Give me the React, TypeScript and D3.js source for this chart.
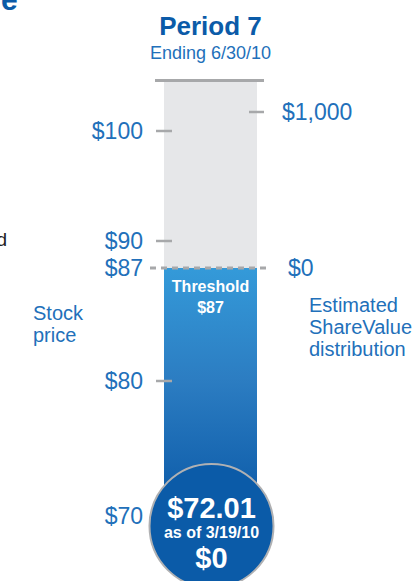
import * as d3 from "d3";
import { useEffect, useRef } from "react";

// stock price axis (left) - the chart is schematic, so the scale is piecewise
const priceBreaks = [70, 80, 87, 90, 100, 104.5];
const priceTicks = [100, 90, 87, 80, 70];
const threshold = 87;
const currentPrice = "$72.01";
const currentDate = "as of 3/19/10";
const currentShareValue = "$0";

// ShareValue axis (right)
const shareBreaks = [0, 1000];
const shareTicks = [1000];

const periodTitle = "Period 7";
const periodSub = "Ending 6/30/10";

const W = 413;
const H = 581;
const FONT = "'Liberation Sans', Arial, sans-serif";
const BLUE = "#2270ba";
const DARK = "#0b5ba8";

const App = () => {
  const ref = useRef<SVGSVGElement>(null);

  useEffect(() => {
    const svg = d3.select(ref.current);
    svg.selectAll("*").remove();

    const y = d3.scaleLinear().domain(priceBreaks).range([516, 381, 268, 241, 131, 82]);
    const ySV = d3.scaleLinear().domain(shareBreaks).range([y(threshold), 112]);
    const barX = 164, barW = 93, cx = barX + barW / 2;

    const defs = svg.append("defs");
    const grad = defs.append("linearGradient")
      .attr("id", "blueGrad").attr("x1", 0).attr("x2", 0).attr("y1", 0).attr("y2", 1);
    grad.append("stop").attr("offset", "0%").attr("stop-color", "#349ad9");
    grad.append("stop").attr("offset", "45%").attr("stop-color", "#2c7dc2");
    grad.append("stop").attr("offset", "100%").attr("stop-color", "#0a58a6");

    // cut-off fragments of neighbouring text
    svg.append("text").attr("x", 1).attr("y", 10).attr("font-family", FONT)
      .attr("font-weight", "bold").attr("font-size", 30).attr("fill", DARK).text("e");
    svg.append("text").attr("x", 7).attr("y", 246).attr("text-anchor", "end").attr("font-family", FONT)
      .attr("font-size", 19).attr("fill", "#222").text("d");

    // titles
    svg.append("text").attr("x", cx).attr("y", 35).attr("text-anchor", "middle")
      .attr("font-family", FONT).attr("font-weight", "bold").attr("font-size", 26)
      .attr("fill", DARK).text(periodTitle);
    svg.append("text").attr("x", cx).attr("y", 59).attr("text-anchor", "middle")
      .attr("font-family", FONT).attr("font-size", 18).attr("fill", BLUE).text(periodSub);

    // grey part above threshold
    svg.append("rect").attr("x", barX).attr("y", y(104.5)).attr("width", barW)
      .attr("height", y(threshold) - y(104.5)).attr("fill", "#e6e7e9");
    svg.append("rect").attr("x", 155).attr("y", y(104.5) - 3).attr("width", 109)
      .attr("height", 3).attr("fill", "#a7a8aa");

    // blue part below threshold
    svg.append("rect").attr("x", barX).attr("y", y(threshold)).attr("width", barW)
      .attr("height", y(70) - y(threshold)).attr("fill", "url(#blueGrad)");

    // left ticks
    svg.selectAll(".lt").data(priceTicks.filter(d => d !== threshold && d !== 70)).enter()
      .append("line").attr("x1", 156).attr("x2", 172)
      .attr("y1", d => y(d)).attr("y2", d => y(d))
      .attr("stroke", "#a7a8aa").attr("stroke-width", 2.5);
    svg.selectAll(".ll").data(priceTicks).enter()
      .append("text").attr("x", 143).attr("y", d => y(d)).attr("dy", "0.35em")
      .attr("text-anchor", "end").attr("font-family", FONT).attr("font-size", 23)
      .attr("fill", BLUE).text(d => `$${d}`);

    // threshold dashed line
    svg.append("line").attr("x1", 150).attr("x2", 271)
      .attr("y1", y(threshold)).attr("y2", y(threshold))
      .attr("stroke", "#a7a8aa").attr("stroke-width", 3).attr("stroke-dasharray", "6,5");
    svg.append("text").attr("x", cx).attr("y", y(threshold) + 24).attr("text-anchor", "middle")
      .attr("font-family", FONT).attr("font-weight", "bold").attr("font-size", 16)
      .attr("fill", "#fff").text("Threshold");
    svg.append("text").attr("x", cx).attr("y", y(threshold) + 45).attr("text-anchor", "middle")
      .attr("font-family", FONT).attr("font-weight", "bold").attr("font-size", 16)
      .attr("fill", "#fff").text(`$${threshold}`);

    // right ShareValue ticks
    svg.selectAll(".rt").data(shareTicks).enter()
      .append("line").attr("x1", 249).attr("x2", 264)
      .attr("y1", d => ySV(d)).attr("y2", d => ySV(d))
      .attr("stroke", "#a7a8aa").attr("stroke-width", 2.5);
    svg.selectAll(".rl").data([...shareTicks, 0]).enter()
      .append("text").attr("x", d => (d === 0 ? 288 : 282)).attr("y", d => ySV(d)).attr("dy", "0.35em")
      .attr("font-family", FONT).attr("font-size", 23).attr("fill", BLUE)
      .text(d => d3.format("$,")(d));

    // axis captions
    const cap = (lines: string[], x: number, y0: number) => {
      lines.forEach((t, i) => {
        svg.append("text").attr("x", x).attr("y", y0 + i * 22).attr("font-family", FONT)
          .attr("font-size", 20).attr("fill", BLUE).text(t);
      });
    };
    cap(["Stock", "price"], 33, 320);
    cap(["Estimated", "ShareValue", "distribution"], 309, 312);

    // current price bubble
    const cy = y(70) + 10;
    svg.append("circle").attr("cx", cx + 1).attr("cy", cy).attr("r", 62)
      .attr("fill", DARK).attr("stroke", "#b0b1b3").attr("stroke-width", 2);
    svg.append("text").attr("x", cx + 1).attr("y", cy - 8).attr("text-anchor", "middle")
      .attr("font-family", FONT).attr("font-weight", "bold").attr("font-size", 29)
      .attr("fill", "#fff").text(currentPrice);
    svg.append("text").attr("x", cx + 1).attr("y", cy + 12).attr("text-anchor", "middle")
      .attr("font-family", FONT).attr("font-weight", "bold").attr("font-size", 16)
      .attr("fill", "#fff").text(currentDate);
    svg.append("text").attr("x", cx + 1).attr("y", cy + 42).attr("text-anchor", "middle")
      .attr("font-family", FONT).attr("font-weight", "bold").attr("font-size", 29)
      .attr("fill", "#fff").text(currentShareValue);
  }, []);

  return (
    <svg ref={ref} width={W} height={H}
      style={{ position: "absolute", left: 0, top: 0, display: "block", background: "#fff" }} />
  );
};

export default App;
